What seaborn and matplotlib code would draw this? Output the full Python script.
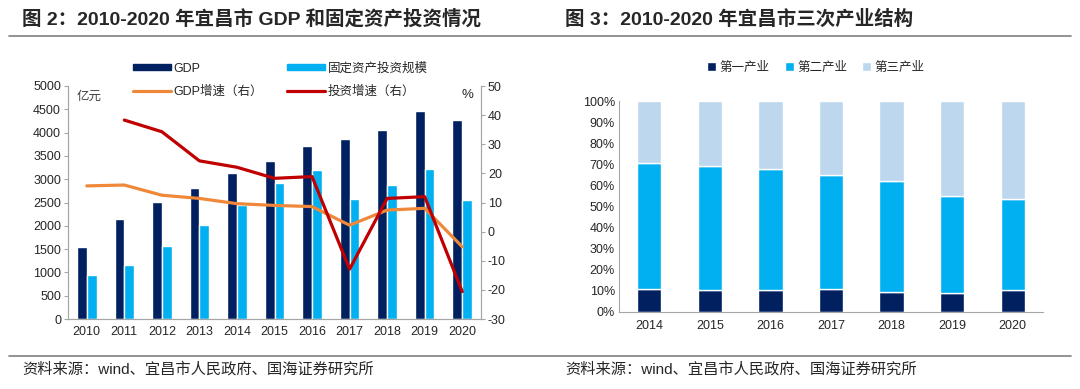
import numpy as np
import pandas as pd
import matplotlib
matplotlib.use("Agg")
import matplotlib.pyplot as plt
import seaborn as sns
from matplotlib.lines import Line2D
from matplotlib.patches import Patch

sns.set_style("white")
plt.rcParams["font.family"] = ["Liberation Sans", "Noto Sans CJK SC"]
plt.rcParams["axes.unicode_minus"] = False

# ---- 图2 数据 ----
years = ["2010", "2011", "2012", "2013", "2014", "2015", "2016", "2017", "2018", "2019", "2020"]
gdp = [1547, 2141, 2508, 2818, 3132, 3384, 3710, 3857, 4065, 4461, 4261]
invest = [950, 1160, 1570, 2020, 2450, 2915, 3190, 2570, 2865, 3215, 2545]
gdp_growth = [15.7, 16.0, 12.5, 11.4, 9.6, 9.0, 8.6, 2.2, 7.4, 8.0, -5.2]
invest_growth = [np.nan, 38.3, 34.3, 24.3, 22.1, 18.3, 18.9, -12.9, 11.4, 12.0, -20.6]

# ---- 图3 数据 ----
years3 = ["2014", "2015", "2016", "2017", "2018", "2019", "2020"]
primary = [10.9, 10.3, 10.6, 10.7, 9.4, 8.9, 10.6]
secondary = [59.7, 58.8, 57.3, 54.0, 52.5, 46.2, 42.9]
tertiary = [100 - p - s for p, s in zip(primary, secondary)]

c_navy = "#002060"
c_sky = "#00B0F0"
c_orange = "#F0883A"
c_red = "#C00000"
c_pale = "#BDD7EE"
c_spine = "#A6A6A6"

fig = plt.figure(figsize=(10.8, 3.89), dpi=100)

# 标题与分隔线
fig.text(22 / 1080, 1 - 19 / 389, "图 2：2010-2020 年宜昌市 GDP 和固定资产投资情况",
         fontsize=14, fontweight="bold", va="center", ha="left")
fig.text(565 / 1080, 1 - 19 / 389, "图 3：2010-2020 年宜昌市三次产业结构",
         fontsize=14, fontweight="bold", va="center", ha="left")
fig.add_artist(Line2D([9 / 1080, 1071 / 1080], [1 - 36 / 389] * 2, color="#808080", lw=1.2))
fig.add_artist(Line2D([9 / 1080, 1071 / 1080], [1 - 356 / 389] * 2, color="#808080", lw=1.2))
src = "资料来源：wind、宜昌市人民政府、国海证券研究所"
fig.text(22 / 1080, 1 - 369 / 389, src, fontsize=11, va="center", ha="left")
fig.text(565 / 1080, 1 - 369 / 389, src, fontsize=11, va="center", ha="left")

# =============================================================================
# 左图：GDP 与固定资产投资
# =============================================================================
ax = fig.add_axes([68 / 1080, 1 - 319 / 389, (481 - 68) / 1080, (319 - 86) / 389])
df_bar = pd.DataFrame({
    "year": years * 2,
    "value": gdp + invest,
    "series": ["GDP"] * len(years) + ["固定资产投资规模"] * len(years),
})
sns.barplot(data=df_bar, x="year", y="value", hue="series",
            palette=[c_navy, c_sky], saturation=1, width=0.52, ax=ax, legend=False)
ax.set_ylim(0, 5000)
ax.set_yticks(np.arange(0, 5001, 500))
ax.set_xlim(-0.5, len(years) - 0.5)
ax.set_xlabel("")
ax.set_ylabel("")
ax.tick_params(axis="both", labelsize=9, colors="#262626")
ax.tick_params(axis="y", length=3, color=c_spine, pad=2)
ax.tick_params(axis="x", length=0, pad=5)
ax.spines["top"].set_visible(False)
for s in ["left", "bottom", "right"]:
    ax.spines[s].set_color(c_spine)

ax2 = ax.twinx()
xpos = np.arange(len(years))
ax2.plot(xpos, gdp_growth, color=c_orange, lw=2.3)
ax2.plot(xpos, invest_growth, color=c_red, lw=2.3)
ax2.set_ylim(-30, 50)
ax2.set_yticks(np.arange(-30, 51, 10))
ax2.tick_params(axis="y", labelsize=9, colors="#262626", length=3, pad=2)
ax2.tick_params(axis="y", color=c_spine)
ax2.spines["top"].set_visible(False)
for s in ["left", "bottom", "right"]:
    ax2.spines[s].set_color(c_spine)

ax.text(0.022, 0.955, "亿元", transform=ax.transAxes, fontsize=9, style="italic",
        ha="left", va="center", color="#404040")
ax.text(0.968, 0.96, "%", transform=ax.transAxes, fontsize=9.5,
        ha="center", va="center", color="#262626")

handles = [Patch(color=c_navy), Line2D([], [], color=c_orange, lw=2.3),
           Patch(color=c_sky), Line2D([], [], color=c_red, lw=2.3)]
labels = ["GDP", "GDP增速（右）", "固定资产投资规模", "投资增速（右）"]
fig.legend(handles, labels, ncol=2, loc="upper left",
           bbox_to_anchor=(122 / 1080, 1 - 51 / 389), frameon=False, fontsize=9,
           handlelength=3.0, handleheight=0.45, columnspacing=1.9,
           handletextpad=0.25, labelspacing=0.9)

# =============================================================================
# 右图：三次产业结构
# =============================================================================
bx = fig.add_axes([619 / 1080, 1 - 312 / 389, (1043 - 619) / 1080, (312 - 101) / 389])
cum2 = [p + s for p, s in zip(primary, secondary)]
sns.barplot(x=years3, y=primary, color=c_navy, saturation=1, width=0.4, ax=bx,
            label="第一产业")
sns.barplot(x=years3, y=secondary, bottom=primary, color=c_sky, saturation=1,
            width=0.4, ax=bx, label="第二产业")
sns.barplot(x=years3, y=tertiary, bottom=cum2, color=c_pale, saturation=1,
            width=0.4, ax=bx, label="第三产业")
bx.set_ylim(0, 100)
bx.set_yticks(np.arange(0, 101, 10))
bx.set_yticklabels([f"{v}%" for v in range(0, 101, 10)])
bx.set_xlim(-0.5, len(years3) - 0.5)
bx.set_xticks(np.arange(-0.5, len(years3), 1), minor=True)
bx.tick_params(axis="x", which="minor", direction="in", length=3, color=c_spine)
bx.tick_params(axis="x", which="major", length=0, pad=6)
bx.tick_params(axis="y", length=0, pad=3)
bx.tick_params(axis="both", labelsize=9, colors="#262626")
bx.spines["top"].set_visible(False)
bx.spines["right"].set_visible(False)
for s in ["left", "bottom"]:
    bx.spines[s].set_color(c_spine)
bx.legend(loc="center", bbox_to_anchor=(816 / 1080, 1 - 68 / 389),
          bbox_transform=fig.transFigure, ncol=3, frameon=False, fontsize=9,
          handlelength=0.7, handleheight=0.7, handletextpad=0.3, columnspacing=1.2)

fig.savefig("out.png", dpi=100)
